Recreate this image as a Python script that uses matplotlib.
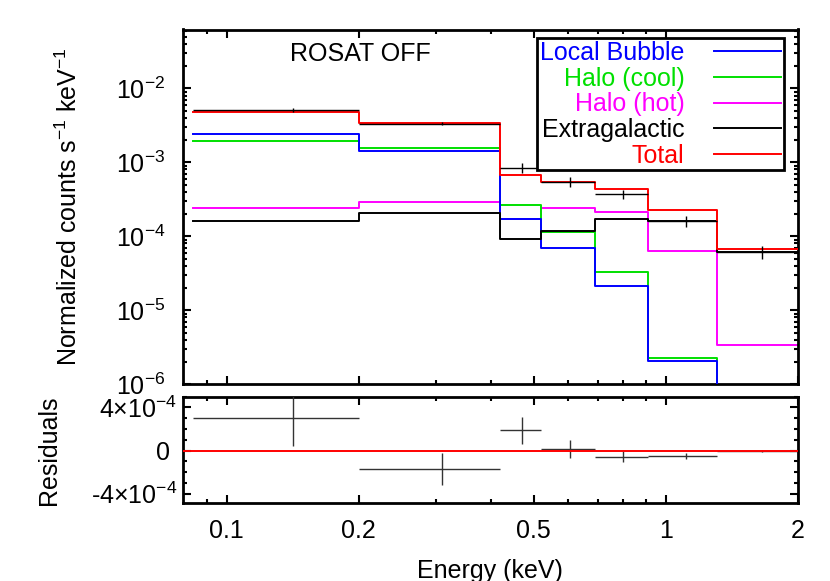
import numpy as np
import matplotlib
matplotlib.use("Agg")
import matplotlib.pyplot as plt
from matplotlib.ticker import FixedLocator, FixedFormatter, MultipleLocator, LogLocator, FuncFormatter, NullFormatter
from matplotlib.legend_handler import HandlerLine2D

plt.rcParams['font.family'] = ['Liberation Sans', 'DejaVu Sans']
plt.rcParams['mathtext.fontset'] = 'custom'
plt.rcParams['mathtext.rm'] = 'Liberation Sans'
plt.rcParams['mathtext.it'] = 'Liberation Sans:italic'
plt.rcParams['mathtext.bf'] = 'Liberation Sans:bold'
plt.rcParams['mathtext.default'] = 'regular'

# ---- data ----
bin_edges = [0.084, 0.2, 0.42, 0.52, 0.69, 0.91, 1.31, 2.0]
local_bubble = [2.43e-3, 1.42e-3, 1.70e-4, 6.9e-5, 2.15e-5, 2.07e-6, 1e-8]
halo_cool = [1.96e-3, 1.55e-3, 2.62e-4, 1.15e-4, 3.27e-5, 2.29e-6, 1e-8]
halo_hot = [2.38e-4, 2.88e-4, 1.70e-4, 2.43e-4, 2.13e-4, 6.27e-5, 3.36e-6]
extragalactic = [1.63e-4, 2.07e-4, 9.1e-5, 1.19e-4, 1.70e-4, 1.60e-4, 6.2e-5]
total = [4.80e-3, 3.36e-3, 6.67e-4, 5.40e-4, 4.36e-4, 2.24e-4, 6.7e-5]
data_counts = [5.1e-3, 3.33e-3, 8.45e-4, 5.47e-4, 3.70e-4, 1.61e-4, 6.2e-5]
data_err = [2.57e-4, 1.52e-4, 1.25e-4, 0.83e-4, 0.52e-4, 0.27e-4, 0.12e-4]
residuals = [3.0e-4, -1.72e-4, 1.88e-4, 0.16e-4, -0.59e-4, -0.53e-4, -0.03e-4]
residual_err = [2.57e-4, 1.52e-4, 1.25e-4, 0.83e-4, 0.52e-4, 0.27e-4, 0.12e-4]

x_major = [0.1, 0.2, 0.5, 1, 2]
x_major_labels = ['0.1', '0.2', '0.5', '1', '2']
x_minor = [0.09, 0.3, 0.4, 0.6, 0.7, 0.8, 0.9]
res_ticks = [-4e-4, 0, 4e-4]
res_tick_labels = ['-4×10$^{-4}$', '0 ', '4×10$^{-4}$']

series = [
    ('Local Bubble', local_bubble, '#0000ff', 4),
    ('Halo (cool)', halo_cool, '#00e000', 3),
    ('Halo (hot)', halo_hot, '#ff00ff', 2),
    ('Extragalactic', extragalactic, '#000000', 5),
    ('Total', total, '#ff0000', 6),
]

FS = 18
W, H = 830, 581
fig = plt.figure(figsize=(W / 100, H / 100), dpi=100)

L, R = 182.6, 798.0
ax = fig.add_axes([L / W, 1 - 384.3 / H, (R - L) / W, (384.3 - 29.5) / H])
ax2 = fig.add_axes([L / W, 1 - 503.3 / H, (R - L) / W, (503.3 - 396.7) / H], sharex=ax)

edges = np.array(bin_edges)
centers = (edges[:-1] + edges[1:]) / 2
half = (edges[1:] - edges[:-1]) / 2

handles = []
for name, vals, col, z in series:
    v = np.array(vals)
    ln, = ax.step(edges, np.append(v, v[-1]), where='post', color=col, lw=1.4,
                  label=name, zorder=z)
    handles.append(ln)

ax.errorbar(centers, data_counts, xerr=half, yerr=data_err, fmt='none',
            ecolor='black', elinewidth=1.0, capsize=0, zorder=7)

ax.set_xscale('log')
ax.set_yscale('log')
ax.set_xlim(0.0794, 2.0)
ax.set_ylim(1e-6, 0.0624)

ax.yaxis.set_major_locator(LogLocator(base=10, numticks=10))
ax.yaxis.set_minor_locator(LogLocator(base=10, subs=np.arange(2, 10), numticks=20))
ax.yaxis.set_major_formatter(FuncFormatter(lambda v, p: '10$^{%d}$' % int(round(np.log10(v)))))
ax.yaxis.set_minor_formatter(NullFormatter())

for a in (ax, ax2):
    a.xaxis.set_major_locator(FixedLocator(x_major))
    a.xaxis.set_minor_locator(FixedLocator(x_minor))
    a.tick_params(which='both', direction='in', top=True, right=True, width=1.5,
                  labelsize=FS)
    a.tick_params(which='major', length=6)
    a.tick_params(which='minor', length=3)
    for s in a.spines.values():
        s.set_linewidth(2.0)

ax.tick_params(axis='x', which='both', labelbottom=False)
ax.tick_params(axis='y', which='major', pad=12.5)

ax2.xaxis.set_major_formatter(FixedFormatter(x_major_labels))
ax2.xaxis.set_minor_formatter(NullFormatter())
ax2.tick_params(axis='x', which='major', pad=11)

ax2.errorbar(centers, residuals, xerr=half, yerr=residual_err, fmt='none',
             ecolor='#333333', elinewidth=1.0, capsize=0, zorder=3)
ax2.axhline(0, color='red', lw=1.4, zorder=4)
ax2.set_ylim(-4.9e-4, 5.0e-4)
ax2.yaxis.set_major_locator(FixedLocator(res_ticks))
ax2.yaxis.set_major_formatter(FixedFormatter(res_tick_labels))
ax2.yaxis.set_minor_locator(MultipleLocator(1e-4))
ax2.tick_params(axis='y', which='major', pad=4)

ax.set_ylabel('Normalized counts s$^{-1}$ keV$^{-1}$', fontsize=FS)
ax.yaxis.set_label_coords(-0.163, 0.5)
ax2.set_ylabel('Residuals', fontsize=FS)
ax2.yaxis.set_label_coords(-0.198, 0.5)
ax2.set_xlabel('Energy (keV)', fontsize=FS, labelpad=12)

ax.text(0.1745, 0.912, 'ROSAT OFF', transform=ax.transAxes, fontsize=FS,
        ha='left', va='baseline')

leg = ax.legend(handles=handles, loc='upper right', bbox_to_anchor=(0.9772, 0.9752),
                borderaxespad=0, markerfirst=False, labelcolor='linecolor',
                fontsize=FS, frameon=True, fancybox=False, framealpha=1,
                edgecolor='black', handlelength=2.96, handletextpad=0.926,
                labelspacing=0.07, borderpad=0.1,
                handler_map={h: HandlerLine2D(xpad=0.262) for h in handles})
leg.get_frame().set_linewidth(2.0)
leg.set_zorder(10)

fig.savefig('out.png', dpi=100)
